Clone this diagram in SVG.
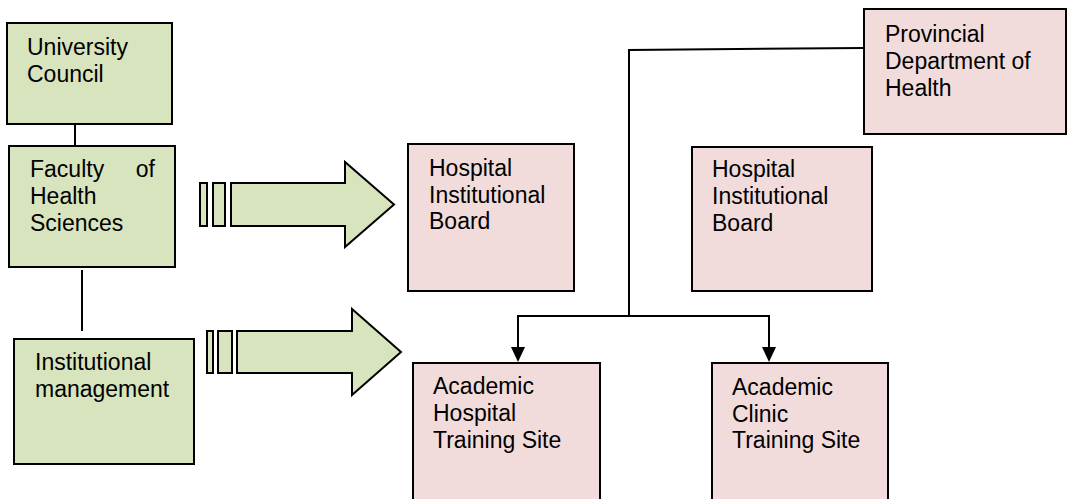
<svg xmlns="http://www.w3.org/2000/svg" width="1067" height="499" viewBox="0 0 1067 499">
<style>
.g{fill:#d7e4bd;stroke:#000;stroke-width:2}
.p{fill:#f2dcdb;stroke:#000;stroke-width:2}
.t{font-family:"Liberation Sans",Arial,sans-serif;font-size:23px;fill:#000}
.c{fill:none;stroke:#000;stroke-width:2}
</style>
<defs>
<marker id="ah" markerWidth="14" markerHeight="14" viewBox="0 0 14 14" refX="7" refY="14" orient="auto" markerUnits="userSpaceOnUse">
<path d="M0,0 L14,0 L7,14 Z" fill="#000"/>
</marker>
</defs>
<rect width="1067" height="499" fill="#fff"/>
<g id="connectors">
<line class="c" x1="75" y1="124" x2="75" y2="146"/>
<line class="c" x1="82" y1="270" x2="82" y2="331"/>
<polyline class="c" points="864,48 629,50 629,316"/>
<line class="c" x1="517" y1="316" x2="770" y2="316"/>
<line class="c" x1="518" y1="316" x2="518" y2="347"/>
<line class="c" x1="769" y1="316" x2="769" y2="347"/>
<path d="M511,347 L525,347 L518,362 Z" fill="#000"/>
<path d="M762,347 L776,347 L769,362 Z" fill="#000"/>
</g>
<g id="arrow1">
<rect class="g" x="200" y="183" width="7" height="43"/>
<rect class="g" x="213" y="183" width="12" height="43"/>
<path class="g" d="M231,183 L345,183 L345,162 L394,204.5 L345,247 L345,226 L231,226 Z"/>
</g>
<g id="arrow2">
<rect class="g" x="207" y="331" width="6" height="42"/>
<rect class="g" x="218" y="331" width="14" height="42"/>
<path class="g" d="M237,331 L352,331 L352,309 L401,352 L352,395 L352,373 L237,373 Z"/>
</g>
<g id="university-council">
<rect class="g" x="7" y="23" width="165" height="101"/>
<text class="t" x="27" y="55">University</text>
<text class="t" x="27" y="82">Council</text>
</g>
<g id="faculty">
<rect class="g" x="9" y="146" width="166" height="121"/>
<text class="t" x="30" y="177">Faculty</text>
<text class="t" x="155" y="177" text-anchor="end">of</text>
<text class="t" x="30" y="204">Health</text>
<text class="t" x="30" y="231">Sciences</text>
</g>
<g id="institutional-management">
<rect class="g" x="14" y="339" width="180" height="125"/>
<text class="t" x="35" y="370">Institutional</text>
<text class="t" x="35" y="397">management</text>
</g>
<g id="hospital-board-1">
<rect class="p" x="408" y="144" width="166" height="147"/>
<text class="t" x="429" y="176">Hospital</text>
<text class="t" x="429" y="203">Institutional</text>
<text class="t" x="429" y="229">Board</text>
</g>
<g id="hospital-board-2">
<rect class="p" x="692" y="147" width="180" height="144"/>
<text class="t" x="712" y="177">Hospital</text>
<text class="t" x="712" y="204">Institutional</text>
<text class="t" x="712" y="231">Board</text>
</g>
<g id="provincial">
<rect class="p" x="864" y="9" width="202" height="125"/>
<text class="t" x="885" y="42">Provincial</text>
<text class="t" x="885" y="69">Department of</text>
<text class="t" x="885" y="96">Health</text>
</g>
<g id="academic-hospital">
<rect class="p" x="413" y="363" width="187" height="150"/>
<text class="t" x="433" y="394">Academic</text>
<text class="t" x="433" y="421">Hospital</text>
<text class="t" x="433" y="448">Training Site</text>
</g>
<g id="academic-clinic">
<rect class="p" x="712" y="363" width="176" height="150"/>
<text class="t" x="732" y="395">Academic</text>
<text class="t" x="732" y="422">Clinic</text>
<text class="t" x="732" y="448">Training Site</text>
</g>
</svg>
